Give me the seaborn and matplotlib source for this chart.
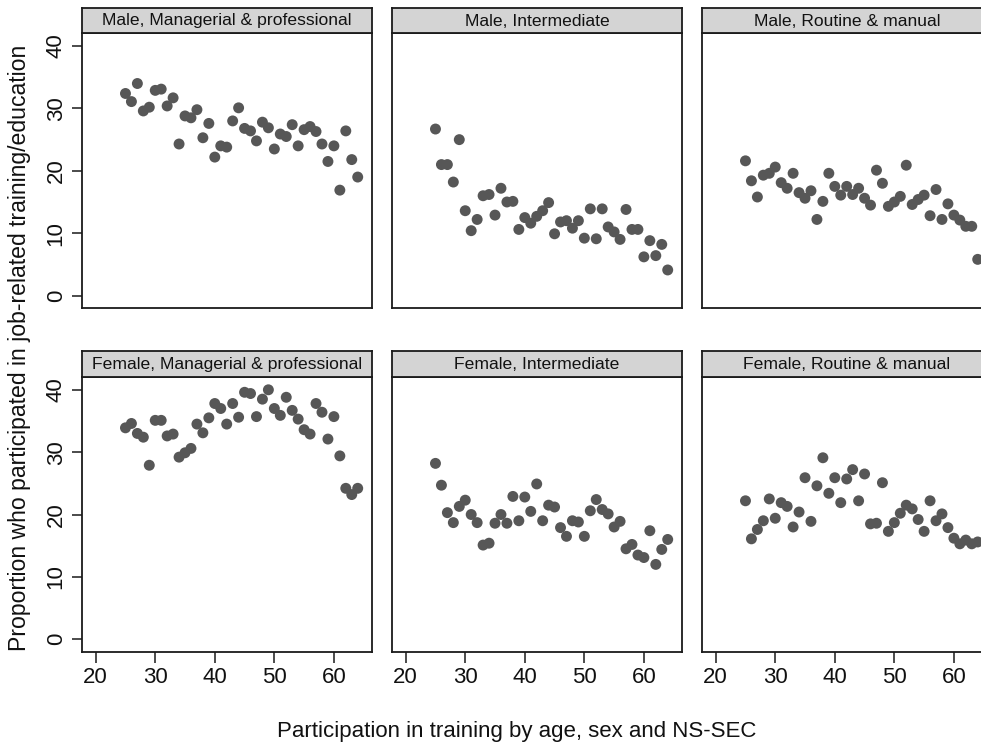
import matplotlib
matplotlib.use("Agg")
import matplotlib.pyplot as plt
import seaborn as sns
import pandas as pd

ages = [25, 26, 27, 28, 29, 30, 31, 32, 33, 34, 35, 36, 37, 38, 39, 40, 41, 42, 43, 44,
        45, 46, 47, 48, 49, 50, 51, 52, 53, 54, 55, 56, 57, 58, 59, 60, 61, 62, 63, 64]

male_managerial = [32.4, 31.1, 34.0, 29.6, 30.2, 32.9, 33.1, 30.4, 31.7, 24.3, 28.8, 28.5, 29.8, 25.3,
                   27.6, 22.2, 24.0, 23.8, 28.0, 30.1, 26.8, 26.4, 24.8, 27.8, 26.9, 23.5, 25.9, 25.5,
                   27.4, 24.0, 26.6, 27.1, 26.3, 24.3, 21.5, 24.0, 16.9, 26.4, 21.8, 19.0]
male_intermediate = [26.7, 21.0, 21.0, 18.2, 25.0, 13.6, 10.4, 12.2, 16.0, 16.2, 12.9, 17.2, 15.0, 15.1,
                     10.6, 12.5, 11.6, 12.7, 13.6, 14.9, 9.9, 11.8, 12.0, 10.8, 12.0, 9.2, 13.9, 9.1,
                     13.9, 11.0, 10.2, 9.0, 13.8, 10.6, 10.6, 6.2, 8.8, 6.4, 8.2, 4.1]
male_routine = [21.6, 18.4, 15.8, 19.3, 19.6, 20.6, 18.1, 17.2, 19.6, 16.5, 15.6, 16.8, 12.2, 15.1,
                19.6, 17.5, 16.1, 17.5, 16.2, 17.2, 15.6, 14.5, 20.1, 18.0, 14.3, 15.0, 15.9, 20.9,
                14.6, 15.4, 16.1, 12.8, 17.0, 12.2, 14.7, 12.9, 12.1, 11.1, 11.1, 5.8]
female_managerial = [33.9, 34.6, 33.0, 32.4, 27.9, 35.1, 35.1, 32.6, 32.9, 29.2, 29.9, 30.6, 34.5, 33.1,
                     35.5, 37.8, 37.0, 34.5, 37.8, 35.6, 39.6, 39.4, 35.7, 38.5, 40.0, 37.0, 35.9, 38.8,
                     36.7, 35.3, 33.6, 32.9, 37.8, 36.4, 32.1, 35.7, 29.4, 24.2, 23.2, 24.2]
female_intermediate = [28.2, 24.7, 20.3, 18.7, 21.3, 22.3, 20.0, 18.7, 15.1, 15.4, 18.6, 20.0, 18.6, 22.9,
                       19.0, 22.8, 20.5, 24.9, 19.0, 21.5, 21.2, 17.9, 16.5, 19.0, 18.8, 16.5, 20.6, 22.4,
                       20.8, 20.1, 18.0, 18.9, 14.5, 15.2, 13.5, 13.1, 17.4, 12.0, 14.4, 16.0]
female_routine = [22.2, 16.1, 17.6, 19.0, 22.5, 19.4, 21.9, 21.3, 18.0, 20.4, 25.9, 18.9, 24.6, 29.1,
                  23.4, 25.9, 21.9, 25.7, 27.2, 22.2, 26.5, 18.5, 18.6, 25.1, 17.3, 18.7, 20.2, 21.5,
                  20.9, 19.2, 17.3, 22.2, 19.0, 20.1, 17.9, 16.2, 15.3, 15.9, 15.3, 15.6]

panel_titles = ["Male, Managerial & professional", "Male, Intermediate", "Male, Routine & manual",
                "Female, Managerial & professional", "Female, Intermediate", "Female, Routine & manual"]
panel_values = [male_managerial, male_intermediate, male_routine,
                female_managerial, female_intermediate, female_routine]
x_ticks = [20, 30, 40, 50, 60]
y_ticks = [0, 10, 20, 30, 40]
x_label = "Participation in training by age, sex and NS-SEC"
y_label = "Proportion who participated in job-related training/education"

frames = []
for title, vals in zip(panel_titles, panel_values):
    frames.append(pd.DataFrame({"panel": title, "age": ages, "value": vals}))
df = pd.concat(frames, ignore_index=True)

sns.set_theme(style="white")
plt.rcParams["font.family"] = ["Liberation Sans", "DejaVu Sans"]

W, H = 981, 745
fig = plt.figure(figsize=(W / 100, H / 100), dpi=100)

col_left = [82, 392, 702]
ax_w = 290
rows = [(33, 308, 8), (376.7, 651.7, 351)]  # axes top, axes bottom, strip top

edge = "#1a1a1a"
dot = "#575757"
txt = "#111111"

for i, title in enumerate(panel_titles):
    r, c = divmod(i, 3)
    top, bot, stop = rows[r]
    left = col_left[c]
    ax = fig.add_axes([left / W, 1 - bot / H, ax_w / W, (bot - top) / H])
    sub = df[df["panel"] == title]
    sns.scatterplot(data=sub, x="age", y="value", ax=ax, color=dot, s=62,
                    edgecolor="none", linewidth=0, legend=False)
    ax.set_xlim(17.7, 66.4)
    ax.set_ylim(-2.0, 42.1)
    ax.set_xlabel("")
    ax.set_ylabel("")
    ax.set_facecolor("white")
    for sp in ax.spines.values():
        sp.set_color(edge)
        sp.set_linewidth(1.3)
        sp.set_visible(True)
    if c == 0:
        ax.set_yticks(y_ticks)
        ax.set_yticklabels([str(v) for v in y_ticks], rotation=90, va="center",
                           fontsize=16, color=txt)
        ax.tick_params(axis="y", left=True, length=7, width=1.1, color=edge, pad=4)
    else:
        ax.set_yticks([])
    if r == 1:
        ax.set_xticks(x_ticks)
        ax.set_xticklabels([str(v) for v in x_ticks], fontsize=16, color=txt)
        ax.tick_params(axis="x", bottom=True, length=8, width=1.1, color=edge, pad=3)
    else:
        ax.set_xticks([])

    # strip header
    sax = fig.add_axes([left / W, 1 - top / H, ax_w / W, (top - stop) / H])
    sax.set_facecolor("#d4d4d4")
    sax.set_xticks([])
    sax.set_yticks([])
    for sp in sax.spines.values():
        sp.set_color(edge)
        sp.set_linewidth(1.3)
        sp.set_visible(True)
    sax.text(0.5, 0.48, title, ha="center", va="center", fontsize=12.6,
             color=txt, transform=sax.transAxes)

fig.text(517 / W, 1 - 732 / H, x_label, ha="center", va="center", fontsize=16, color=txt)
fig.text(20 / W, 1 - 348 / H, y_label, ha="center", va="center", rotation=90,
         fontsize=16.6, color=txt)

fig.savefig("out.png", dpi=100, facecolor="white")
